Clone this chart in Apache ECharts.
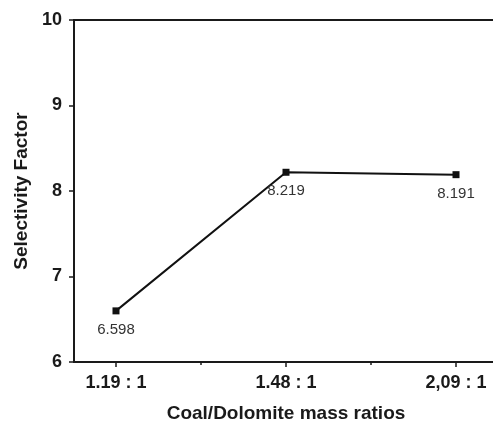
<!DOCTYPE html>
<html>
<head>
<meta charset="utf-8">
<script src="https://cdn.jsdelivr.net/npm/echarts@6/dist/echarts.min.js"></script>
<style>html,body{margin:0;padding:0;background:#fff}#c{width:493px;height:424px}</style>
</head>
<body>
<div id="c"></div>
<script>
var categories = ['1.19 : 1', '1.48 : 1', '2,09 : 1'];
var values = [6.598, 8.219, 8.191];
var yTicks = [6, 7, 8, 9, 10];
var xAxisName = 'Coal/Dolomite mass ratios';
var yAxisName = 'Selectivity Factor';

var chart = echarts.init(document.getElementById('c'), null, {renderer: 'canvas'});
var font = 'Liberation Sans, Arial, sans-serif';
var ink = '#1a1a1a';
var pos = categories.map(function (c, i) { return i + 1; });
var minorPos = [1.5, 2.5];

chart.setOption({
  animation: false,
  grid: {left: 74, top: 20, width: 424, height: 342, outerBoundsMode: 'none', containLabel: false,
    show: true, borderColor: ink, borderWidth: 2, backgroundColor: 'transparent'},
  xAxis: [{
    type: 'value', min: 0.753, max: 3.247,
    position: 'bottom',
    name: xAxisName, nameLocation: 'middle', nameGap: 42,
    nameTextStyle: {fontFamily: font, fontWeight: 'bold', fontSize: 19, color: ink},
    axisLine: {show: true, lineStyle: {color: ink, width: 2}},
    axisTick: {show: true, inside: false, length: 5, customValues: pos, lineStyle: {color: ink, width: 1.5}},
    axisLabel: {show: true, margin: 12, customValues: pos, fontFamily: font, fontWeight: 'bold', fontSize: 18, color: ink,
      formatter: function (v) { var i = Math.round(v) - 1; return categories[i] || ''; }},
    splitLine: {show: false}
  }, {
    type: 'value', min: 0.753, max: 3.247,
    position: 'bottom',
    axisLine: {show: false},
    axisTick: {show: true, inside: false, length: 3, customValues: minorPos, lineStyle: {color: ink, width: 1.5}},
    axisLabel: {show: false},
    splitLine: {show: false}
  }],
  yAxis: {
    type: 'value', min: 6, max: 10, interval: 1,
    name: yAxisName, nameLocation: 'middle', nameGap: 43, nameRotate: 90,
    nameTextStyle: {fontFamily: font, fontWeight: 'bold', fontSize: 19, color: ink},
    axisLine: {show: true, lineStyle: {color: ink, width: 2}},
    axisTick: {show: true, inside: false, length: 5, lineStyle: {color: ink, width: 1.5}},
    axisLabel: {margin: 12, fontFamily: font, fontWeight: 'bold', fontSize: 18, color: ink,
      customValues: yTicks},
    splitLine: {show: false}
  },
  series: [{
    type: 'line',
    xAxisIndex: 0,
    data: values.map(function (v, i) { return [pos[i], v]; }),
    symbol: 'rect', symbolSize: 7,
    lineStyle: {color: '#111', width: 2},
    itemStyle: {color: '#111'},
    label: {show: true, position: 'bottom', distance: 8, fontFamily: font, fontSize: 15, color: '#333',
      formatter: function (p) { return p.value[1].toFixed(3); }}
  }]
});
</script>
</body>
</html>
